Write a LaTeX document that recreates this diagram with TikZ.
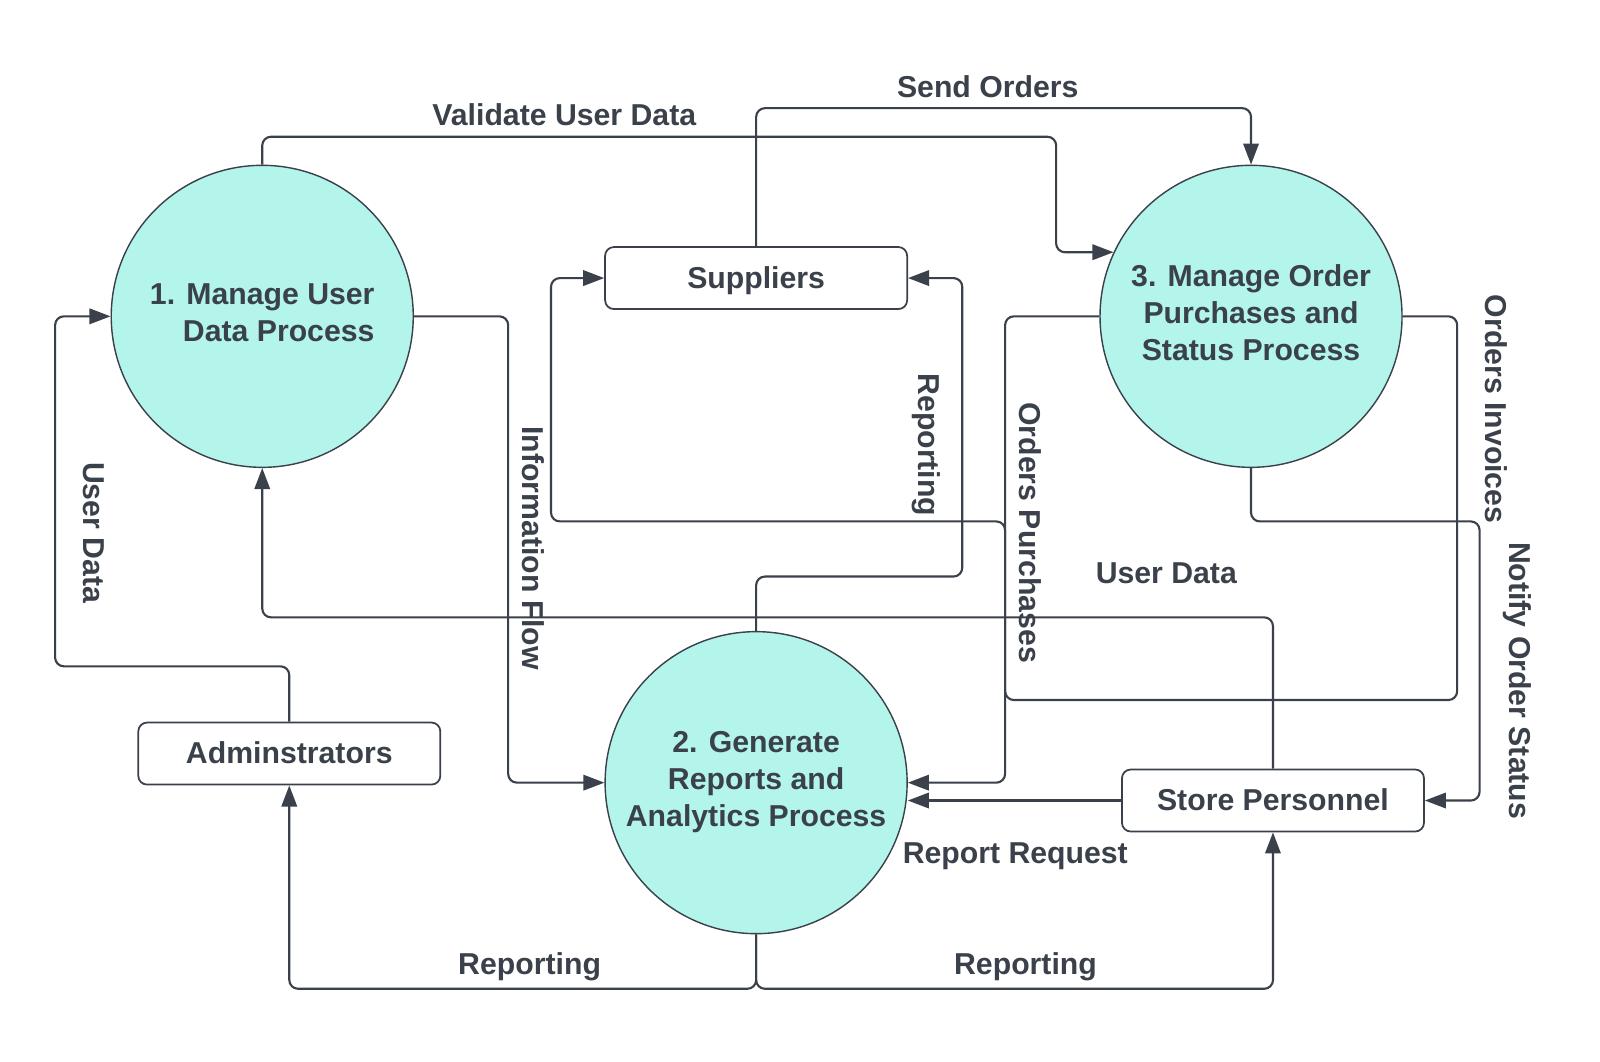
\documentclass[tikz,border=0pt]{standalone}
\usepackage{fontspec}
\setmainfont{Liberation Sans}
\usetikzlibrary{arrows.meta}
\definecolor{ink}{RGB}{58,65,74}
\definecolor{mint}{RGB}{179,244,235}

\begin{document}
\begin{tikzpicture}[x=0.10204mm,y=-0.10204mm,
        font=\fontsize{8.6}{10.45}\selectfont\bfseries,text=ink,
        >={Triangle[length=6pt,width=4.4pt]},
        process/.style={circle,draw=ink,fill=mint,line width=0.4pt,
            minimum size=30.2mm,inner sep=0pt,align=center,text depth=2.2pt},
        entity/.style={draw=ink,rounded corners=2.5pt,line width=0.5pt,
            minimum width=30.2mm,minimum height=6.2mm,inner sep=0pt,
            text height=0.73em,text depth=1.5pt},
        flow/.style={draw=ink,line width=0.6pt,rounded corners=2.5pt},
        vlabel/.style={rotate=-90}]
        \useasboundingbox (0,0) rectangle (1568,1039.8);
        %% Processes
        \node[process,align=right] (p1) at (257,310) {1. Manage User\\Data Process};
        \node[process] (p2) at (741,767) {2. Generate\\Reports and\\Analytics Process};
        \node[process] (p3) at (1226,310) {3. Manage Order\\Purchases and\\Status Process};
        %% External entities
        \node[entity] (sup) at (741,272.5) {Suppliers};
        \node[entity] (adm) at (283.5,738.5) {Adminstrators};
        \node[entity] (staff) at (1247.5,784.5) {Store Personnel};
        %% Flows
        \draw[flow,->] (p1.north) |- (1035,134) |- (p3.155.7);
        \draw[flow,->] (sup.north) |- (1226,106) -- (p3.north);
        \draw[flow,->] (adm.north) |- (54,653) |- (p1.west);
        \draw[flow,->] (p1.east) -| (498,500) |- (p2.west);
        \draw[flow,->] (p2.north) |- (943,565) |- (sup.east);
        \draw[flow,<->] (sup.west) -| (540,400) |- (985,511) |- (p2.east);
        \draw[flow] (p3.west) -| (985,686) -| (1428,400) |- (p3.east);
        \draw[flow,->] (p3.south) |- (1450,511) |- (staff.east);
        \draw[flow,->] (staff.north) |- (257,605) -- (p1.south);
        \draw[flow,->] (staff.west) -- (p2.east |- staff.west);
        \draw[flow,->] (p2.south) |- (500,969) -| (adm.south);
        \draw[flow,->] (p2.south) |- (1000,969) -| (staff.south);
        %% Labels
        \node (lvalid) at (553,112) {Validate User Data};
        \node (lsend) at (968,85) {Send Orders};
        \node[vlabel] (luser) at (92,522) {User Data};
        \node[vlabel] (linfo) at (523,537) {Information Flow};
        \node[vlabel] (lrepsup) at (908,436) {Reporting};
        \node[vlabel] (lpurch) at (1010,522) {Orders Purchases};
        \node[vlabel] (linv) at (1466,401) {Orders Invoices};
        \node[vlabel] (lnotify) at (1487,667) {Notify Order Status};
        \node (lstaffuser) at (1143,562) {User Data};
        \node (lrequest) at (995,839) {Report Request};
        \node (lrepadm) at (519,947) {Reporting};
        \node (lrepstaff) at (1005,947) {Reporting};
    \end{tikzpicture}
\end{document}
